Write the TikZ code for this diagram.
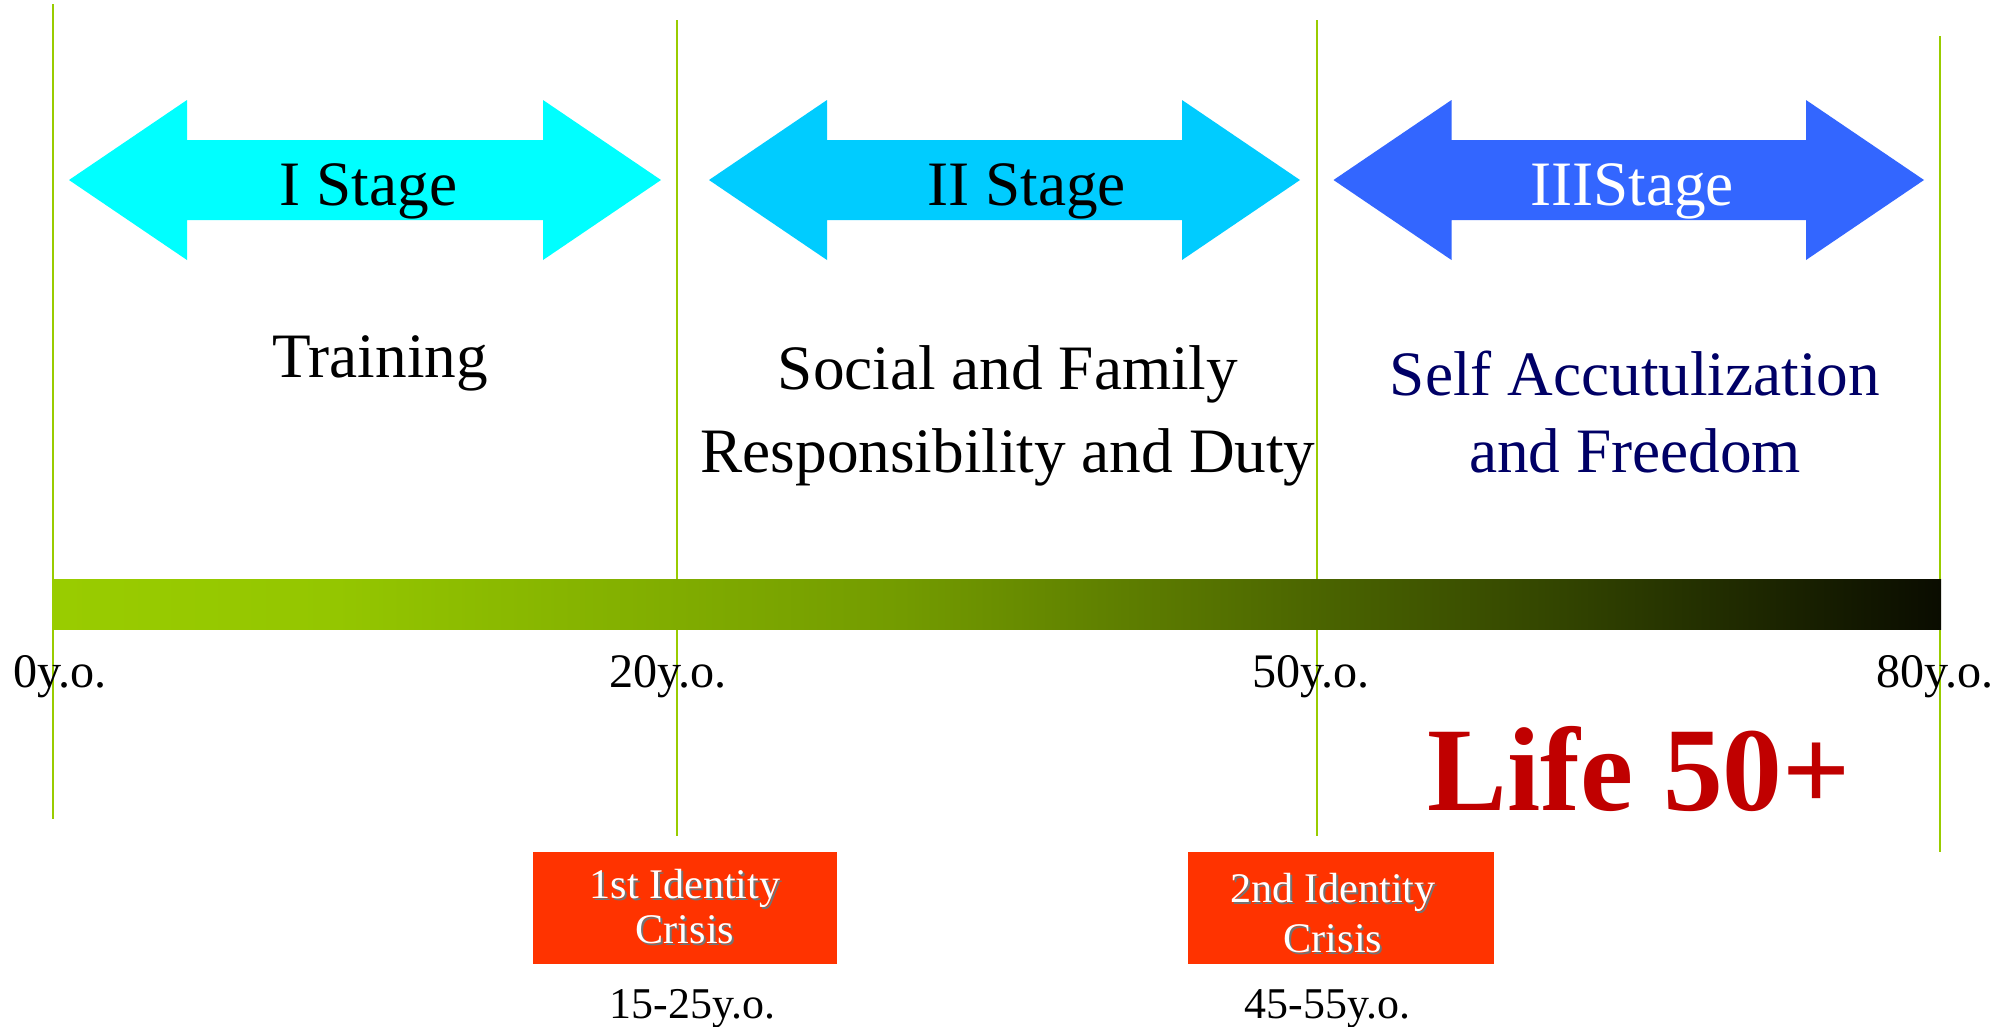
\documentclass[tikz,border=0pt]{standalone}
\usepackage{fontspec}
\setmainfont{Liberation Serif}
\usepackage{tikz}

\definecolor{linegreen}{RGB}{153,204,0}
\definecolor{stageone}{RGB}{0,255,255}
\definecolor{stagetwo}{RGB}{0,204,255}
\definecolor{stagethree}{RGB}{51,102,255}
\definecolor{selfnavy}{RGB}{0,0,102}
\definecolor{crisisred}{RGB}{255,51,0}
\definecolor{lifered}{RGB}{192,0,0}
\definecolor{barA}{RGB}{153,204,0}
\definecolor{barB}{RGB}{148,198,0}
\definecolor{barC}{RGB}{115,155,0}
\definecolor{barD}{RGB}{88,118,0}
\definecolor{barE}{RGB}{50,68,0}
\definecolor{barF}{RGB}{10,12,0}
\pgfdeclarehorizontalshading{lifebar}{100bp}{color(0bp)=(barA); color(25bp)=(barA);
	color(32.5bp)=(barB); color(47.5bp)=(barC); color(55bp)=(barD);
	color(65bp)=(barE); color(75bp)=(barF); color(100bp)=(barF)}

\begin{document}
\begin{tikzpicture}[x=0.1mm,y=-0.1mm,
	stagetext/.style={anchor=base,inner sep=0,align=center,font=\fontsize{18}{23.6}\selectfont},
	agetext/.style={anchor=base,inner sep=0,font=\fontsize{13.7}{16}\selectfont},
	crisisbox/.style={fill=crisisred,minimum height=11.2mm,inner sep=0},
	crisistext/.style={anchor=base,inner sep=0,align=center,text=white},
	crisisshadow/.style={crisistext,text=black!55}]
	\useasboundingbox[fill=white] (0,0) rectangle (2013,1026);
	
	%AGE LINES
	\foreach \xx/\ytop/\ybot in {52.7/4/819, 677/20/836, 1317.4/20/836, 1940/36/852}
		\draw[linegreen,line width=0.6pt] (\xx,\ytop)--(\xx,\ybot);
	
	%LIFE BAR
	\shade[shading=lifebar] (53,579) rectangle (1941,629);
	
	%STAGE ARROWS
	\foreach \xl/\xr/\col in {69/661/stageone, 709/1300/stagetwo, 1333.5/1924/stagethree}
		\fill[\col] (\xl,180)--(\xl+118,100)--(\xl+118,140)--(\xr-118,140)--(\xr-118,100)--(\xr,180)
		--(\xr-118,260)--(\xr-118,220)--(\xl+118,220)--(\xl+118,260)--cycle;
	
	\node[stagetext] (stageI) at (368.5,205) {I Stage};
	\node[stagetext] (stageII) at (1026.6,205) {II Stage};
	\node[stagetext,text=white] (stageIII) at (1632,205) {IIIStage};
	
	%WHAT EACH STAGE IS (base = last line)
	\node[stagetext] (training) at (380,377) {Training};
	\node[stagetext] (duty) at (1008,472) {Social and Family\\Responsibility and Duty};
	\node[stagetext,text=selfnavy,font=\fontsize{18}{21.7}\selectfont] (freedom) at (1635,472) {Self Accutulization\\and Freedom};
	
	%AGES
	\node[agetext] (age0) at (60,687) {0y.o.};
	\node[agetext] (age20) at (668,687) {20y.o.};
	\node[agetext] (age50) at (1311,687) {50y.o.};
	\node[agetext] (age80) at (1935,687) {80y.o.};
	
	\node[anchor=base,inner sep=0,text=lifered,font=\fontsize{34}{40}\selectfont\bfseries] (life) at (1639,810) {Life 50+};
	
	%CRISES
	\node[crisisbox,minimum width=30.4mm] (crisisA) at (685,908) {};
	\node[crisisbox,minimum width=30.6mm] (crisisB) at (1341,908) {};
	
	\node[crisisshadow,font=\fontsize{12}{12.75}\selectfont,shift={(2,2)}] at (685,943) {1st Identity\\Crisis};
	\node[crisistext,font=\fontsize{12}{12.75}\selectfont] (crisisAtext) at (685,943) {1st Identity\\Crisis};
	\node[crisisshadow,font=\fontsize{12}{14}\selectfont,shift={(2,2)}] at (1333,952) {2nd Identity\\Crisis};
	\node[crisistext,font=\fontsize{12}{14}\selectfont] (crisisBtext) at (1333,952) {2nd Identity\\Crisis};
	
	\node[anchor=base,inner sep=0,font=\fontsize{12.5}{15}\selectfont] (rangeA) at (692.5,1018) {15-25y.o.};
	\node[anchor=base,inner sep=0,font=\fontsize{12.5}{15}\selectfont] (rangeB) at (1327.5,1018) {45-55y.o.};
\end{tikzpicture}
\end{document}
